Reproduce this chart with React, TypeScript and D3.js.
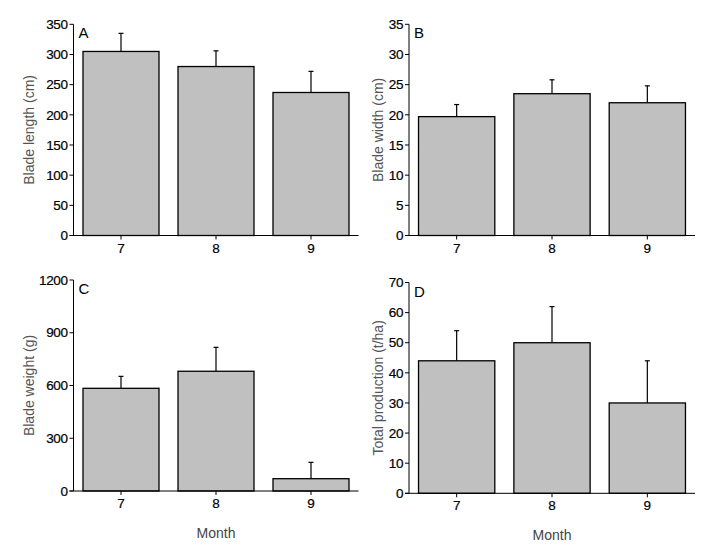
import React from 'react';
import * as d3 from 'd3';

const months = ['7', '8', '9'];

const lengthMean = [305, 280, 237];
const lengthErr = [335, 306, 272];
const lengthTicks = [0, 50, 100, 150, 200, 250, 300, 350];

const widthMean = [19.7, 23.5, 22.0];
const widthErr = [21.7, 25.8, 24.8];
const widthTicks = [0, 5, 10, 15, 20, 25, 30, 35];

const weightMean = [584, 681, 70];
const weightErr = [652, 817, 163];
const weightTicks = [0, 300, 600, 900, 1200];

const prodMean = [44, 50, 30];
const prodErr = [54, 62, 44];
const prodTicks = [0, 10, 20, 30, 40, 50, 60, 70];

type PanelProps = {
    letter: string;
    yTitle: string;
    means: number[];
    errs: number[];
    ticks: number[];
    left: number;
    right: number;
    top: number;
    bottom: number;
    titleX: number;
    showMonth: boolean;
};

const FONT = 'Arial, "Liberation Sans", sans-serif';

const Panel: React.FC<PanelProps> = ({ letter, yTitle, means, errs, ticks, left, right, top, bottom, titleX, showMonth }) => {
    const x = d3.scaleBand<string>()
        .domain(months)
        .range([left, right])
        .paddingInner(0.2)
        .paddingOuter(0.1);

    const y = d3.scaleLinear()
        .domain([0, ticks[ticks.length - 1]])
        .range([bottom, top]);

    const bw = x.bandwidth();

    return (
        <g>
            {means.map((m, i) => {
                const cx = (x(months[i]) || 0) + bw / 2;
                return (
                    <g key={i}>
                        <line x1={cx} x2={cx} y1={y(m)} y2={y(errs[i])} stroke="#000" strokeWidth={1.2} />
                        <line x1={cx - 2.5} x2={cx + 2.5} y1={y(errs[i])} y2={y(errs[i])} stroke="#000" strokeWidth={1.2} />
                        <rect x={x(months[i])} y={y(m)} width={bw} height={y(0) - y(m)}
                            fill="#c0c0c0" stroke="#000" strokeWidth={1.3} />
                    </g>
                );
            })}
            {/* y axis */}
            <line x1={left} x2={left} y1={top} y2={bottom} stroke="#000" strokeWidth={1} />
            {ticks.map(t => (
                <g key={t}>
                    <line x1={left - 4} x2={left} y1={y(t)} y2={y(t)} stroke="#000" strokeWidth={1} />
                    <text x={left - 6} y={y(t)} dy="0.35em" textAnchor="end" fontSize={13.5} letterSpacing={-0.4}
                        fill="#000" stroke="#000" strokeWidth={0.2} fontFamily={FONT}>{t}</text>
                </g>
            ))}
            {/* x axis */}
            <line x1={left - 4} x2={right} y1={bottom} y2={bottom} stroke="#000" strokeWidth={1} />
            {months.map(mo => {
                const cx = (x(mo) || 0) + bw / 2;
                return (
                    <g key={mo}>
                        <line x1={cx} x2={cx} y1={bottom} y2={bottom + 4} stroke="#000" strokeWidth={1} />
                        <text x={cx} y={bottom + 17} textAnchor="middle" fontSize={13.5}
                            fill="#000" stroke="#000" strokeWidth={0.2} fontFamily={FONT}>{mo}</text>
                    </g>
                );
            })}
            <text x={left + 5} y={top + 14} fontSize={15} fill="#000" fontFamily={FONT}>{letter}</text>
            <text transform={`translate(${titleX},${(top + bottom) / 2}) rotate(-90)`} textAnchor="middle"
                fontSize={14} fill="#555" fontFamily={FONT}>{yTitle}</text>
            {showMonth && (
                <text x={(left + right) / 2} y={bottom + 47} textAnchor="middle" fontSize={14} fill="#444" fontFamily={FONT}>Month</text>
            )}
        </g>
    );
};

const App: React.FC = () => {
    return (
        <svg width={712} height={551} style={{ position: 'absolute', left: 0, top: 0, background: '#fff' }}>
            <rect width={712} height={551} fill="#fff" />
            <Panel letter="A" yTitle="Blade length (cm)" means={lengthMean} errs={lengthErr} ticks={lengthTicks}
                left={73.5} right={358.5} top={24.3} bottom={235.5} titleX={34} showMonth={false} />
            <Panel letter="B" yTitle="Blade width (cm)" means={widthMean} errs={widthErr} ticks={widthTicks}
                left={409} right={695} top={24.3} bottom={235.5} titleX={383} showMonth={false} />
            <Panel letter="C" yTitle="Blade weight (g)" means={weightMean} errs={weightErr} ticks={weightTicks}
                left={73.5} right={358.5} top={280} bottom={491} titleX={34} showMonth={true} />
            <Panel letter="D" yTitle="Total production (t/ha)" means={prodMean} errs={prodErr} ticks={prodTicks}
                left={409} right={695} top={282.5} bottom={493.3} titleX={383} showMonth={true} />
        </svg>
    );
};

export default App;
